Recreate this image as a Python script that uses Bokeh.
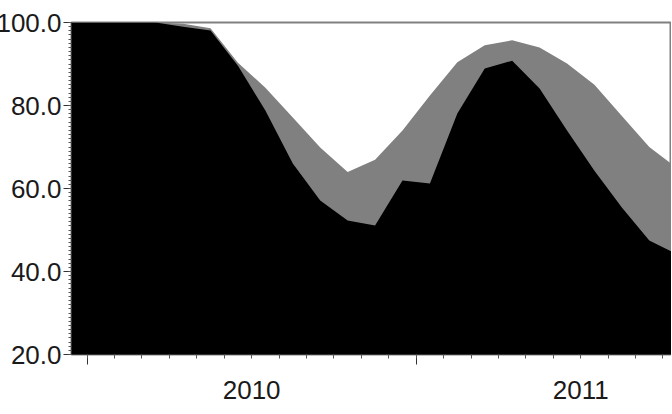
from bokeh.plotting import figure
from bokeh.models import FixedTicker, LinearAxis, Range1d, PrintfTickFormatter, ColumnDataSource
from bokeh.embed import file_html
from bokeh.resources import INLINE

# ---- data ----
months = ["2009-11", "2009-12",
          "2010-01", "2010-02", "2010-03", "2010-04", "2010-05", "2010-06",
          "2010-07", "2010-08", "2010-09", "2010-10", "2010-11", "2010-12",
          "2011-01", "2011-02", "2011-03", "2011-04", "2011-05", "2011-06",
          "2011-07", "2011-08", "2011-09", "2011-10"]
upper = [100.0, 100.0,
         100.0, 100.0, 100.0, 99.7, 98.6, 90.3,
         84.3, 77.1, 69.9, 64.0, 66.9, 74.0,
         82.4, 90.4, 94.5, 95.7, 94.0, 90.1,
         85.0, 77.5, 70.0, 65.0]
lower = [100.0, 100.0,
         100.0, 100.0, 100.0, 99.0, 98.1, 89.6,
         78.8, 66.0, 57.1, 52.3, 51.1, 61.9,
         61.2, 78.1, 88.9, 90.8, 84.1, 74.0,
         64.3, 55.4, 47.5, 44.2]
y_ticks = [20, 40, 60, 80, 100]
year_ticks = [0, 12]              # start of each year (month index)
year_label_pos = [6, 18]          # middle of each year
year_labels = ["2010", "2011"]

# month index (0 = Jan 2010), points at mid-month
x = [(int(s[:4]) - 2010) * 12 + int(s[5:]) - 1 + 0.5 for s in months]
src = ColumnDataSource(dict(x=x, upper=upper, lower=lower, base=[0.0] * len(x)))

FONT = "Liberation Sans"
TXT = "#1a1a1a"

p = figure(frame_width=600, frame_height=332,
           x_range=Range1d(-0.57, 21.31), y_range=Range1d(20, 100),
           x_axis_type=None, y_axis_type=None,
           output_backend="svg", toolbar_location=None,
           min_border_top=22, min_border_right=0, min_border_left=0, min_border_bottom=0)
p.styles = {"margin-left": "-7px"}
p.grid.visible = False
p.background_fill_color = "white"
p.border_fill_color = "white"
p.outline_line_color = "#808080"
p.outline_line_width = 2

p.varea(x="x", y1="base", y2="upper", source=src, fill_color="#808080")
p.varea(x="x", y1="base", y2="lower", source=src, fill_color="#000000")

# y axis
yax = LinearAxis(ticker=FixedTicker(ticks=y_ticks, minor_ticks=list(range(20, 101))),
                 formatter=PrintfTickFormatter(format="%.1f"))
yax.major_label_text_font = FONT
yax.major_label_text_font_size = "26px"
yax.major_label_text_color = TXT
yax.major_label_standoff = 2
yax.major_tick_out = 8
yax.major_tick_in = 0
yax.minor_tick_out = 3
yax.minor_tick_in = 0
yax.axis_line_color = "#333333"
yax.major_tick_line_color = "#333333"
yax.minor_tick_line_color = "#555555"
p.add_layout(yax, "left")

# x axis: ticks only (labels not drawn)
xax = LinearAxis(ticker=FixedTicker(ticks=year_ticks, minor_ticks=list(range(-1, 23))))
xax.major_label_text_color = None
xax.major_label_text_font_size = "1px"
xax.major_label_standoff = 0
xax.major_tick_out = 10
xax.major_tick_in = 0
xax.minor_tick_out = 4
xax.minor_tick_in = 0
xax.axis_line_color = "#333333"
xax.major_tick_line_color = "#333333"
xax.minor_tick_line_color = "#555555"
p.add_layout(xax, "below")

# x axis: year labels centred in each year
xlab = LinearAxis(ticker=FixedTicker(ticks=year_label_pos, minor_ticks=[]),
                  major_label_overrides={pos: lab for pos, lab in zip(year_label_pos, year_labels)})
xlab.axis_line_color = None
xlab.major_tick_line_color = None
xlab.minor_tick_line_color = None
xlab.major_tick_out = 0
xlab.major_tick_in = 0
xlab.major_label_standoff = 16
xlab.major_label_text_font = FONT
xlab.major_label_text_font_size = "26px"
xlab.major_label_text_color = TXT
p.add_layout(xlab, "below")

open("out.html", "w").write(file_html(p, INLINE))
